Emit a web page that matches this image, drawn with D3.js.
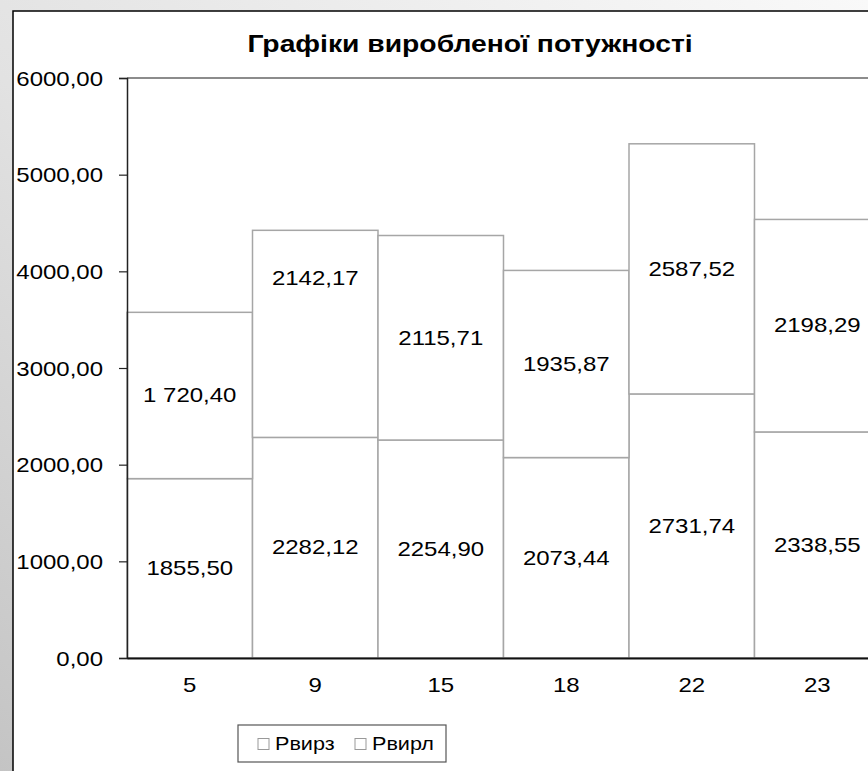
<!DOCTYPE html>
<html>
<head>
<meta charset="utf-8">
<script src="https://cdn.jsdelivr.net/npm/d3@7"></script>
<style>
  html, body { margin: 0; padding: 0; background: #ffffff; }
  svg { display: block; }
  text { font-family: "Liberation Sans", Arial, sans-serif; fill: #000; }
</style>
</head>
<body>
<svg id="chart" width="868" height="771"></svg>
<script>
// Chart data
const title = "Графіки виробленої потужності";
const categories = ["5", "9", "15", "18", "22", "23"];
const seriesNames = ["Рвирз", "Рвирл"];
const pVyrz = [1855.50, 2282.12, 2254.90, 2073.44, 2731.74, 2338.55];
const pVyrl = [1720.40, 2142.17, 2115.71, 1935.87, 2587.52, 2198.29];
const yTicks = [0, 1000, 2000, 3000, 4000, 5000, 6000];

// Layout
const W = 868, H = 771;
const frame = { x: 13, y: 11 };
const plot = { left: 127, right: 880, top: 78, bottom: 658 };
const stretch = 1.2;   // horizontal widening applied to text

const svg = d3.select("#chart");
const defs = svg.append("defs");

const bg = defs.append("linearGradient").attr("id", "bgGrad")
  .attr("x1", 0).attr("y1", 1).attr("x2", 1).attr("y2", 0);
bg.append("stop").attr("offset", "0%").attr("stop-color", "#c4c4c4");
bg.append("stop").attr("offset", "45%").attr("stop-color", "#e2e2e2");
bg.append("stop").attr("offset", "100%").attr("stop-color", "#f9f9f9");

svg.append("rect").attr("width", W).attr("height", H).attr("fill", "url(#bgGrad)");

// white chart frame
svg.append("rect")
  .attr("x", frame.x).attr("y", frame.y)
  .attr("width", W + 20).attr("height", H + 20)
  .attr("fill", "#ffffff").attr("stroke", "#000").attr("stroke-width", 1.5);

// helper: place a text at (x,y) and widen it horizontally about its anchor
function label(g, x, y, str, opts = {}) {
  const sx = opts.stretch || stretch;
  return g.append("text")
    .attr("transform", `translate(${x},${y}) scale(${sx},1)`)
    .attr("text-anchor", opts.anchor || "middle")
    .attr("dominant-baseline", opts.baseline || "central")
    .style("font-size", (opts.size || 20) + "px")
    .style("font-weight", opts.weight || "normal")
    .text(str);
}

// Title
label(svg, 470, 44, title, { size: 23, weight: "bold", stretch: 1.23 });

// Scales
const x = d3.scaleBand().domain(categories).range([plot.left, plot.right]).padding(0);
const y = d3.scaleLinear().domain([0, 6000]).range([plot.bottom, plot.top]);

// Stacked bars
const rows = categories.map((c, i) => ({ cat: c, [seriesNames[0]]: pVyrz[i], [seriesNames[1]]: pVyrl[i] }));
const stacked = d3.stack().keys(seriesNames)(rows);

const barG = svg.append("g");
stacked.forEach(layer => {
  barG.selectAll(null).data(layer).join("rect")
    .attr("x", d => x(d.data.cat))
    .attr("y", d => y(d[1]))
    .attr("width", x.bandwidth())
    .attr("height", d => y(d[0]) - y(d[1]))
    .attr("fill", "#ffffff")
    .attr("stroke", "#a6a6a6")
    .attr("stroke-width", 1.5);
});

// Plot area top border
svg.append("line")
  .attr("x1", plot.left).attr("x2", W + 10)
  .attr("y1", plot.top).attr("y2", plot.top)
  .attr("stroke", "#8c8c8c").attr("stroke-width", 2);

// Y axis
const loc = d3.formatLocale({ decimal: ",", thousands: " ", grouping: [3], currency: ["", ""] });
const tickFmt = loc.format(".2f");
const yAxis = svg.append("g").attr("transform", `translate(${plot.left},0)`)
  .call(d3.axisLeft(y).tickValues(yTicks).tickSize(8).tickFormat(""));
yAxis.select(".domain").attr("stroke", "#222").attr("stroke-width", 1.5);
yAxis.selectAll(".tick line").attr("stroke", "#222").attr("stroke-width", 1.2);
yTicks.forEach(v => label(svg, 103, y(v) + 1, tickFmt(v), { anchor: "end" }));

// X axis
const xAxis = svg.append("g").attr("transform", `translate(0,${plot.bottom})`)
  .call(d3.axisBottom(x).tickSize(0).tickFormat(""));
xAxis.select(".domain").attr("stroke", "#111").attr("stroke-width", 2);
categories.forEach(c => label(svg, x(c) + x.bandwidth() / 2, 685, c));

// Value labels, centred in each segment
const groupedFmt = loc.format(",.2f");
const plainFmt = loc.format(".2f");
const groupedLabels = [[1, 0]];           // labels written with a thousands space
const labelShift = { "1-1": -56 };        // labels moved off the segment centre
stacked.forEach((layer, si) => {
  layer.forEach((d, i) => {
    const grouped = groupedLabels.some(([s, k]) => s === si && k === i);
    const v = d[1] - d[0];
    const txt = grouped ? groupedFmt(v) : plainFmt(v);
    const cy = (y(d[0]) + y(d[1])) / 2 + (labelShift[`${si}-${i}`] || 0);
    label(svg, x(d.data.cat) + x.bandwidth() / 2, cy, txt);
  });
});

// Legend
const lg = svg.append("g");
lg.append("rect").attr("x", 238).attr("y", 725).attr("width", 208).attr("height", 37)
  .attr("fill", "#fff").attr("stroke", "#555").attr("stroke-width", 1.2);
const legendX = [258, 355];
seriesNames.forEach((n, i) => {
  lg.append("rect").attr("x", legendX[i]).attr("y", 738.5).attr("width", 11).attr("height", 11)
    .attr("fill", "#fff").attr("stroke", "#999").attr("stroke-width", 1);
  label(lg, legendX[i] + 17, 744, n, { anchor: "start", size: 18 });
});
</script>
</body>
</html>
